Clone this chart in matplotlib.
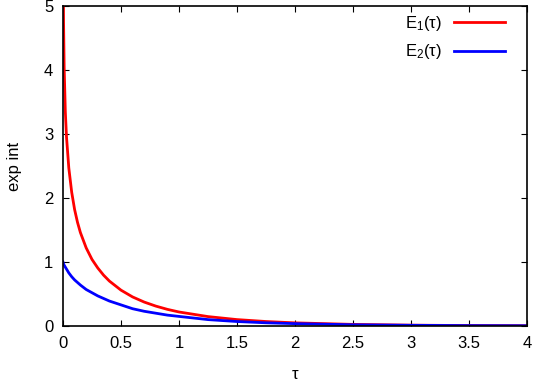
import matplotlib
matplotlib.use("Agg")
import matplotlib.pyplot as plt

plt.rcParams['font.family'] = ['Liberation Sans', 'DejaVu Sans']
plt.rcParams['mathtext.fontset'] = 'custom'
plt.rcParams['mathtext.rm'] = 'Liberation Sans'
plt.rcParams['mathtext.it'] = 'Liberation Sans'

# values
tau1 = [0.001, 0.003, 0.005, 0.01, 0.02, 0.03, 0.05, 0.075, 0.1, 0.125, 0.15, 0.2, 0.25,
        0.3, 0.35, 0.4, 0.5, 0.6, 0.7, 0.8, 0.9, 1.0, 1.25, 1.5, 1.75, 2.0, 2.5, 3.0,
        3.5, 4.0]
e1 = [6.33, 5.24, 4.73, 4.04, 3.35, 2.96, 2.47, 2.09, 1.82, 1.62, 1.46, 1.22, 1.04,
      0.906, 0.794, 0.702, 0.560, 0.454, 0.374, 0.311, 0.260, 0.219, 0.147, 0.100,
      0.070, 0.049, 0.025, 0.013, 0.007, 0.004]

tau2 = [0.0, 0.005, 0.01, 0.02, 0.05, 0.075, 0.1, 0.15, 0.2, 0.25, 0.3, 0.4, 0.5, 0.6,
        0.7, 0.8, 0.9, 1.0, 1.25, 1.5, 1.75, 2.0, 2.5, 3.0, 3.5, 4.0]
e2 = [1.0, 0.97, 0.95, 0.92, 0.83, 0.77, 0.72, 0.64, 0.57, 0.52, 0.47, 0.39, 0.33,
      0.27, 0.23, 0.20, 0.17, 0.15, 0.10, 0.07, 0.05, 0.037, 0.019, 0.011, 0.006, 0.004]

fig = plt.figure(figsize=(5.35, 3.81), dpi=100)
ax = fig.add_axes([63 / 535, 55 / 381, 464 / 535, 320 / 381])

ax.plot(tau1, e1, color='#ff0000', lw=2, label='E$_1$(τ)')
ax.plot(tau2, e2, color='#0000ff', lw=2, label='E$_2$(τ)')

ax.set_xlim(0, 4)
ax.set_ylim(0, 5)
ax.set_xticks([0, 0.5, 1, 1.5, 2, 2.5, 3, 3.5, 4])
ax.set_xticklabels(['0', '0.5', '1', '1.5', '2', '2.5', '3', '3.5', '4'])
ax.set_yticks([0, 1, 2, 3, 4, 5])
ax.tick_params(direction='in', top=True, right=True, length=4, labelsize=12, pad=7)
for s in ax.spines.values():
    s.set_linewidth(1.2)

ax.set_xlabel('τ', fontsize=12, labelpad=12)
ax.set_ylabel('exp int', fontsize=12, labelpad=16)

ax.legend(loc='upper right', bbox_to_anchor=(0.968, 0.995), frameon=False,
          markerfirst=False, fontsize=12, handlelength=3.1, handletextpad=0.7,
          borderaxespad=0, labelspacing=0.55)

fig.savefig('out.png', dpi=100)
